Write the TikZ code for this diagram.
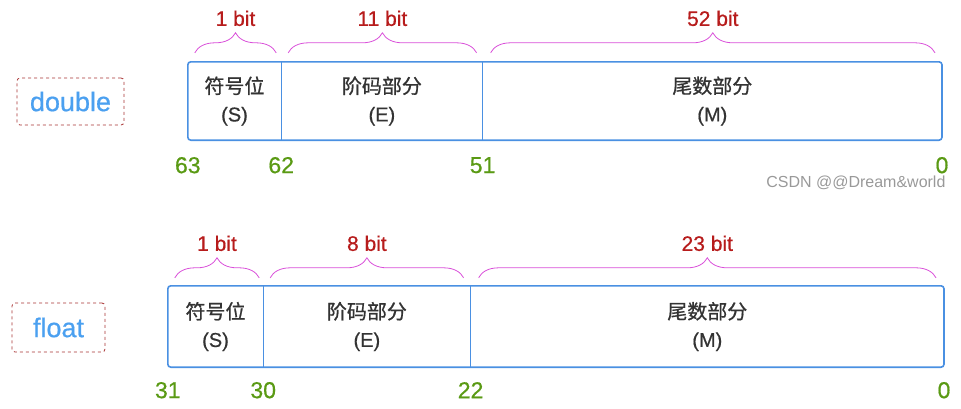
\documentclass[tikz,border=0pt]{standalone}
\usepackage{fontspec}
\setmainfont{Liberation Sans}[FakeBold=0.6]
\newfontfamily\plainsans{Liberation Sans}
\newfontfamily\cjk{Noto Sans CJK SC}[FakeBold=0.8]
\usetikzlibrary{decorations.pathreplacing}

\definecolor{fieldblue}{HTML}{4A90E2}
\definecolor{typeblue}{HTML}{4BA0F0}
\definecolor{dashred}{HTML}{A83232}
\definecolor{bitred}{HTML}{B71C1C}
\definecolor{bracepink}{HTML}{D94FD9}
\definecolor{posgreen}{HTML}{5A9A14}
\definecolor{cellgray}{HTML}{333333}

\begin{document}
\begin{tikzpicture}[x=1pt, y=-1pt,
    field/.style={minimum height=78pt, inner sep=0pt, align=center, text=cellgray,
      font=\fontsize{20}{28}\selectfont},
    typebox/.style={draw=dashred, dashed, rounded corners=3pt, line width=0.8pt,
      text=typeblue, inner sep=0pt, font=\fontsize{27}{30}\selectfont},
    frame/.style={draw=fieldblue, line width=1.6pt, rounded corners=3pt},
    divider/.style={draw=fieldblue, line width=1.4pt},
    bitbrace/.style={decorate, decoration={brace, amplitude=20pt}, draw=bracepink, line width=0.8pt},
    bitlabel/.style={text=bitred, font=\fontsize{21}{24}\selectfont, above=23pt},
    bitpos/.style={text=posgreen, font=\fontsize{23}{26}\selectfont}
]
  \useasboundingbox (0,0) rectangle (961,408);

  % double
  \node[typebox, minimum width=107pt, minimum height=47pt] (dtype) at (70.5,101.5) {double};
  \node[field, minimum width=93pt] (ds) at (234.5,101) {{\cjk 符号位}\\(S)};
  \node[field, minimum width=201pt, anchor=west] (de) at (ds.east) {{\cjk 阶码部分}\\(E)};
  \node[field, minimum width=459pt, anchor=west] (dm) at (de.east) {{\cjk 尾数部分}\\(M)};
  \draw[frame] (ds.north west) rectangle (dm.south east);
  \draw[divider] (ds.north east) -- (ds.south east);
  \draw[divider] (de.north east) -- (de.south east);

  \draw[bitbrace] ([shift={(7,-9)}]ds.north west) -- ([shift={(-5,-9)}]ds.north east) node[midway, bitlabel] {1 bit};
  \draw[bitbrace] ([shift={(7,-9)}]de.north west) -- ([shift={(-6,-9)}]de.north east) node[midway, bitlabel] {11 bit};
  \draw[bitbrace] ([shift={(8,-9)}]dm.north west) -- ([shift={(-7,-9)}]dm.north east) node[midway, bitlabel] {52 bit};

  \node[bitpos] (d63) at ([shift={(0,25)}]ds.south west) {63};
  \node[bitpos] (d62) at ([shift={(0,25)}]ds.south east) {62};
  \node[bitpos] (d51) at ([shift={(0,25)}]de.south east) {51};
  \node[bitpos] (d0) at ([shift={(0,25)}]dm.south east) {0};

  \node[text=black!40, font=\plainsans\fontsize{16}{18}\selectfont, anchor=east] (mark) at (949,183) {CSDN @@Dream\&world};

  % float
  \node[typebox, minimum width=93pt, minimum height=49pt] (ftype) at (58.5,327.5) {float};
  \node[field, minimum width=95pt, minimum height=81pt] (fs) at (215.5,326.5) {{\cjk 符号位}\\(S)};
  \node[field, minimum width=207pt, minimum height=81pt, anchor=west] (fe) at (fs.east) {{\cjk 阶码部分}\\(E)};
  \node[field, minimum width=473pt, minimum height=81pt, anchor=west] (fm) at (fe.east) {{\cjk 尾数部分}\\(M)};
  \draw[frame] (fs.north west) rectangle (fm.south east);
  \draw[divider] (fs.north east) -- (fs.south east);
  \draw[divider] (fe.north east) -- (fe.south east);

  \draw[bitbrace] ([shift={(7,-8)}]fs.north west) -- ([shift={(-4,-8)}]fs.north east) node[midway, bitlabel] {1 bit};
  \draw[bitbrace] ([shift={(7,-8)}]fe.north west) -- ([shift={(-7,-8)}]fe.north east) node[midway, bitlabel] {8 bit};
  \draw[bitbrace] ([shift={(8,-8)}]fm.north west) -- ([shift={(-8,-8)}]fm.north east) node[midway, bitlabel] {23 bit};

  \node[bitpos] (f31) at ([shift={(0,23)}]fs.south west) {31};
  \node[bitpos] (f30) at ([shift={(0,23)}]fs.south east) {30};
  \node[bitpos] (f22) at ([shift={(0,23)}]fe.south east) {22};
  \node[bitpos] (f0) at ([shift={(0,23)}]fm.south east) {0};
\end{tikzpicture}
\end{document}
